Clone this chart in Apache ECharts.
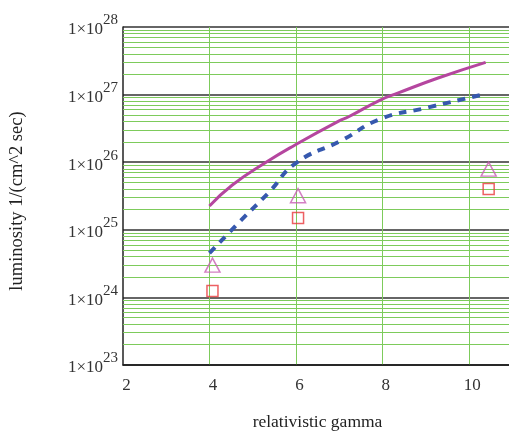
<!DOCTYPE html>
<html><head><meta charset="utf-8">
<script src="https://cdn.jsdelivr.net/npm/echarts@6/dist/echarts.min.js"></script>
<style>html,body{margin:0;padding:0;background:#fff}#c{width:509px;height:431px}</style>
</head><body><div id="c"></div>
<script>
// data
var purpleGamma = [4.0, 4.53, 5.31, 5.98, 6.99, 7.22, 7.95, 8.37, 9.29, 10.39];
var purpleLum   = [2.25e25, 4.6e25, 1.0e26, 1.8e26, 4.06e26, 4.7e26, 8.3e26, 1.06e27, 1.76e27, 3.0e27];
var blueGamma = [4.0, 4.69, 5.38, 6.0, 7.06, 7.95, 8.99, 10.37];
var blueLum   = [4.5e24, 1.3e25, 3.6e25, 9.7e25, 2.1e26, 4.35e26, 6.3e26, 1.02e27];
var triGamma = [4.07, 6.05, 10.46];
var triLum   = [3.0e24, 3.2e25, 7.9e25];
var sqGamma = [4.07, 6.05, 10.46];
var sqLum   = [1.24e24, 1.5e25, 4.0e25];
var xTicks = [2, 4, 6, 8, 10];
var yDecades = [23, 24, 25, 26, 27, 28];

function zip(a, b) { return a.map(function (v, i) { return [v, b[i]]; }); }

// minor grid lines (2..9 in each decade)
var minor = [];
for (var d = yDecades[0]; d < yDecades[yDecades.length - 1]; d++) {
  for (var k = 2; k <= 9; k++) minor.push({ yAxis: k * Math.pow(10, d) });
}

var serif = '"Liberation Serif", "DejaVu Serif", serif';
var green = '#7dcb5b';
var chart = echarts.init(document.getElementById('c'));
chart.setOption({
  animation: false,
  grid: { left: 123, top: 27, right: -3, bottom: 66, outerBoundsMode: 'none', containLabel: false },
  xAxis: {
    type: 'value', min: 2, max: 11, interval: 2,
    name: 'relativistic gamma', nameLocation: 'middle', nameGap: 48,
    nameTextStyle: { fontFamily: serif, fontSize: 17.5, color: '#222' },
    axisLine: { lineStyle: { color: '#222', width: 1.5 } },
    axisTick: { show: false },
    axisLabel: { fontFamily: serif, fontSize: 17, color: '#333', margin: 12, padding: [0, 0, 0, 7],
      formatter: function (v) { return xTicks.indexOf(v) >= 0 ? String(v) : ''; } },
    splitLine: { show: true, showMinLine: false, lineStyle: { color: green, width: 1 } }
  },
  yAxis: {
    type: 'log', logBase: 10, min: 1e23, max: 1e28,
    name: 'luminosity 1/(cm^2 sec)', nameLocation: 'middle', nameGap: 96,
    nameTextStyle: { fontFamily: serif, fontSize: 18.5, color: '#222', padding: [0, 10, 0, 0] },
    axisLine: { lineStyle: { color: '#222', width: 1.5 } },
    axisTick: { show: false },
    axisLabel: {
      margin: 5,
      formatter: function (v) {
        var e = Math.round(Math.log(v) / Math.LN10);
        return '{b|1×10}{s|' + e + '}';
      },
      rich: {
        b: { fontFamily: serif, fontSize: 17, color: '#333', padding: [6, 0, 0, 0] },
        s: { fontFamily: serif, fontSize: 15, color: '#333', padding: [0, 0, 13, 0] }
      }
    },
    splitLine: { show: true, lineStyle: { color: '#333', width: 1.5 } }
  },
  series: [
    {
      type: 'line', data: [], silent: true, z: 1,
      markLine: { silent: true, z: 1, symbol: ['none', 'none'], label: { show: false },
        emphasis: { disabled: true },
        lineStyle: { color: green, width: 1, type: 'solid', opacity: 1 }, data: minor, animation: false }
    },
    {
      type: 'line', data: zip(purpleGamma, purpleLum), smooth: true, showSymbol: false, z: 3,
      lineStyle: { color: '#b5469f', width: 3 }
    },
    {
      type: 'line', data: zip(blueGamma, blueLum), smooth: true, showSymbol: false, z: 3,
      lineStyle: { color: '#3658ae', width: 4, type: [8, 7] }
    },
    {
      type: 'scatter', data: zip(triGamma, triLum), symbol: 'triangle', symbolSize: [15, 14], z: 4,
      itemStyle: { color: 'rgba(0,0,0,0)', borderColor: '#c85fb4', borderWidth: 1.5 }
    },
    {
      type: 'scatter', data: zip(sqGamma, sqLum), symbol: 'rect', symbolSize: 11, z: 4,
      itemStyle: { color: 'rgba(0,0,0,0)', borderColor: '#e8383c', borderWidth: 1.5 }
    }
  ]
});
</script>
</body></html>
